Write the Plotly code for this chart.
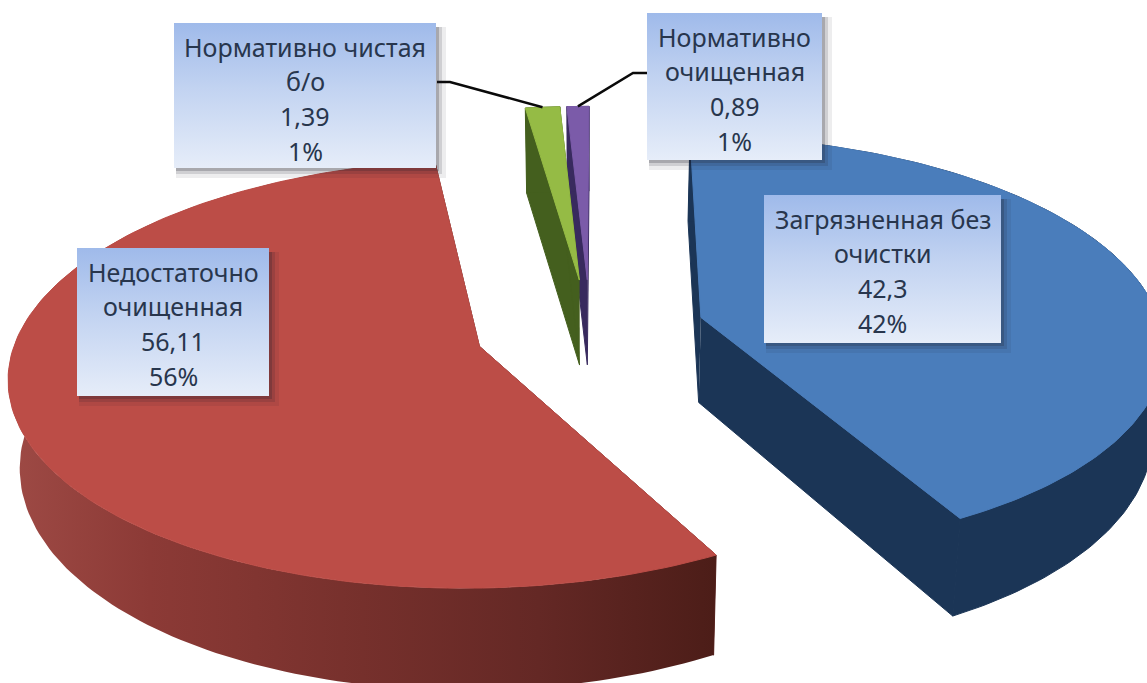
import numpy as np
import plotly.graph_objects as go

# --- data ---
categories = ["Загрязненная без очистки", "Недостаточно очищенная", "Нормативно чистая б/о", "Нормативно очищенная"]
values = [42.3, 56.11, 1.39, 0.89]
value_labels = ["42,3", "56,11", "1,39", "0,89"]
percent_labels = ["42%", "56%", "1%", "1%"]
name_lines = [["Загрязненная без", "очистки"], ["Недостаточно", "очищенная"], ["Нормативно чистая", "б/о"], ["Нормативно", "очищенная"]]

# --- styles ---
top_colors = ["#4a7dbb", "#bc4d47", "#95bb45", "#7b5ba9"]
wall_colors = ["#1b3556", "#5a2320", "#445f1e", "#382a5e"]
red_wall_scale = [[0, "#9e4a45"], [0.2, "#8c3a36"], [0.5, "#76302c"], [0.75, "#642825"], [1, "#4c1d18"]]
box_rects = [(764, 1001, 195, 343), (77, 269, 248, 396), (174, 436, 23, 168), (647, 822, 13, 160)]
box_scale = [[0, "#e6edf9"], [0.55, "#c2d3f1"], [1, "#9fbaea"]]
Cx, Cy, Rx, Ry, K, EXPL = 590, 330, 461, 207, 0.1256, 0.25
START = 0.2

fracs = np.array(values) / sum(values)
draw_order = [3, 2, 0, 1]

def project(X, Y):
    s = 1 / (1 + K * Y)
    return Cx + X * Rx * s, Cy - Y * Ry * s, s

def lower(x, y, s):
    return Cx + (x - Cx) * 0.98, y + 85 + np.maximum(0, s - 1) * 110

fig = go.Figure()

def poly(x, y, color=None, grad=None, edge=False):
    kw = dict(fillgradient=grad) if grad else dict(fillcolor=color)
    line = dict(width=1, color=color) if edge else dict(width=0)
    fig.add_trace(go.Scatter(x=list(x), y=list(y), mode="lines", fill="toself",
                             line=line, hoverinfo="skip", showlegend=False, **kw))

starts = START + np.concatenate([[0], np.cumsum(fracs[:-1])]) * 360
ends = starts + fracs * 360
outer_mid = {}
for i in draw_order:
    a0, a1 = np.radians(starts[i]), np.radians(ends[i])
    mid = (a0 + a1) / 2
    ax, ay = EXPL * np.sin(mid), EXPL * np.cos(mid)
    th = np.linspace(a0, a1, 160)
    X, Y = ax + np.sin(th), ay + np.cos(th)
    x, y, s = project(X, Y)
    px, py, ps = project(np.array([ax]), np.array([ay]))
    mx, my, _ = project(np.array([ax + np.sin(mid)]), np.array([ay + np.cos(mid)]))
    outer_mid[i] = (mx[0], my[0])
    xb, yb = lower(x, y, s)
    pxb, pyb = lower(px, py, ps)
    # straight walls
    poly([px[0], x[0], xb[0], pxb[0]], [py[0], y[0], yb[0], pyb[0]], color=wall_colors[i], edge=True)
    poly([px[0], x[-1], xb[-1], pxb[0]], [py[0], y[-1], yb[-1], pyb[0]], color=wall_colors[i], edge=True)
    # curved wall
    wx = np.concatenate([x, xb[::-1]])
    wy = np.concatenate([y, yb[::-1]])
    if i == 1:
        poly(wx, wy, grad=dict(type="horizontal", colorscale=red_wall_scale))
    else:
        poly(wx, wy, color=wall_colors[i], edge=True)
    # top face
    poly(np.concatenate([px, x, px]), np.concatenate([py, y, py]), color=top_colors[i], edge=True)

# leader lines
leader_starts = {2: [(437, 82), (450, 82)], 3: [(647, 73), (633, 73)]}
for i, pts in leader_starts.items():
    mx, my = outer_mid[i]
    fig.add_trace(go.Scatter(x=[p[0] for p in pts] + [mx], y=[p[1] for p in pts] + [my],
                             mode="lines", line=dict(color="#0a0a0a", width=2.5),
                             hoverinfo="skip", showlegend=False))

# label boxes and text
for i, (x0, x1, y0, y1) in enumerate(box_rects):
    for off, alpha in ((10, 0.08), (6, 0.14), (3, 0.22)):
        poly([x0 + 2, x1 + off, x1 + off, x0 + 2, x0 + 2], [y0 + 4, y0 + 4, y1 + off, y1 + off, y0 + 4],
             color=f"rgba(30,30,40,{alpha})")
    poly([x0, x1, x1, x0, x0], [y0, y0, y1, y1, y0],
         grad=dict(type="vertical", colorscale=box_scale))
    lines = name_lines[i] + [value_labels[i], percent_labels[i]]
    cx = (x0 + x1) / 2
    for j, t in enumerate(lines):
        fig.add_annotation(x=cx, y=y0 + 23.5 + j * 34.7, text=t, showarrow=False, xanchor="center", yanchor="middle",
                           font=dict(family="Noto Sans", size=25, color="#28364d"))

fig.update_xaxes(range=[0, 1147], visible=False, fixedrange=True)
fig.update_yaxes(range=[683, 0], visible=False, fixedrange=True)
fig.update_layout(width=1147, height=683, margin=dict(l=0, r=0, t=0, b=0),
                  paper_bgcolor="white", plot_bgcolor="white", showlegend=False)
fig.write_html("out.html", config={"displayModeBar": False},
               post_script="document.body.style.margin='0';document.body.style.overflow='hidden';")
